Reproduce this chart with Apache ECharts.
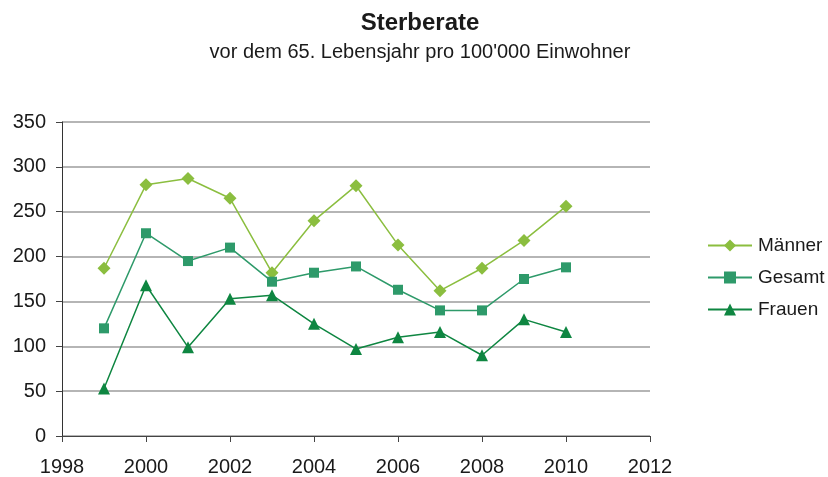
<!DOCTYPE html>
<html lang="de">
<head>
    <meta charset="UTF-8">
    <title>Sterberate</title>
    <style>
        html, body { margin: 0; padding: 0; background: #fff; }
        #main { width: 828px; height: 477px; }
    </style>
</head>
<body>
<div id="main"></div>
<script src="https://cdn.jsdelivr.net/npm/echarts@6/dist/echarts.min.js"></script>
<script>
    var years = [1999, 2000, 2001, 2002, 2003, 2004, 2005, 2006, 2007, 2008, 2009, 2010];
    var maenner = [187, 280, 287, 265, 182, 240, 279, 213, 162, 187, 218, 256];
    var gesamt = [120, 226, 195, 210, 172, 182, 189, 163, 140, 140, 175, 188];
    var frauen = [53, 168, 99, 153, 157, 125, 97, 110, 116, 90, 130, 116];

    function pairs(vals) {
        var out = [];
        for (var i = 0; i < years.length; i++) {
            out.push([years[i], vals[i]]);
        }
        return out;
    }

    var myChart = echarts.init(document.getElementById('main'));
    var font = 'Liberation Sans, Arial, sans-serif';
    var option = {
        animation: false,
        title: {
            text: 'Sterberate',
            subtext: "vor dem 65. Lebensjahr pro 100'000 Einwohner",
            left: 415,
            textAlign: 'center',
            top: 6,
            itemGap: 7,
            textStyle: { fontFamily: font, fontSize: 24, fontWeight: 'bold', color: '#1a1a1a' },
            subtextStyle: { fontFamily: font, fontSize: 20, color: '#1a1a1a' }
        },
        legend: {
            orient: 'vertical',
            left: 702,
            top: 231,
            itemWidth: 44,
            itemHeight: 15,
            itemGap: 13,
            textStyle: { fontFamily: font, fontSize: 19, color: '#1a1a1a', padding: [0, 0, 0, 1] },
            data: ['Männer', 'Gesamt', 'Frauen']
        },
        grid: { left: 62, right: 178, top: 122, bottom: 41 },
        xAxis: {
            type: 'value',
            min: 1998,
            max: 2012,
            interval: 2,
            axisLine: { lineStyle: { color: '#444', width: 1 } },
            axisTick: { show: true, length: 6, lineStyle: { color: '#444' } },
            axisLabel: {
                fontFamily: font, fontSize: 20, color: '#1a1a1a', margin: 21,
                formatter: function (v) { return String(v); }
            },
            splitLine: { show: false }
        },
        yAxis: {
            type: 'value',
            min: 0,
            max: 350,
            interval: 50,
            axisLine: { show: true, lineStyle: { color: '#333', width: 1 } },
            axisTick: { show: true, length: 6, lineStyle: { color: '#444' } },
            axisLabel: { fontFamily: font, fontSize: 20, color: '#1a1a1a', margin: 16 },
            splitLine: { lineStyle: { color: '#9c9c9c', width: 1.5 } }
        },
        series: [
            {
                name: 'Männer',
                type: 'line',
                data: pairs(maenner),
                symbol: 'diamond',
                symbolSize: 13,
                lineStyle: { width: 1.5, color: '#8BBE3F' },
                itemStyle: { color: '#8BBE3F' }
            },
            {
                name: 'Gesamt',
                type: 'line',
                data: pairs(gesamt),
                symbol: 'rect',
                symbolSize: 10,
                lineStyle: { width: 1.5, color: '#2E9A6A' },
                itemStyle: { color: '#2E9A6A' }
            },
            {
                name: 'Frauen',
                type: 'line',
                data: pairs(frauen),
                symbol: 'triangle',
                symbolSize: 12,
                lineStyle: { width: 1.5, color: '#0E8641' },
                itemStyle: { color: '#0E8641' }
            }
        ]
    };
    myChart.setOption(option);
</script>
</body>
</html>
